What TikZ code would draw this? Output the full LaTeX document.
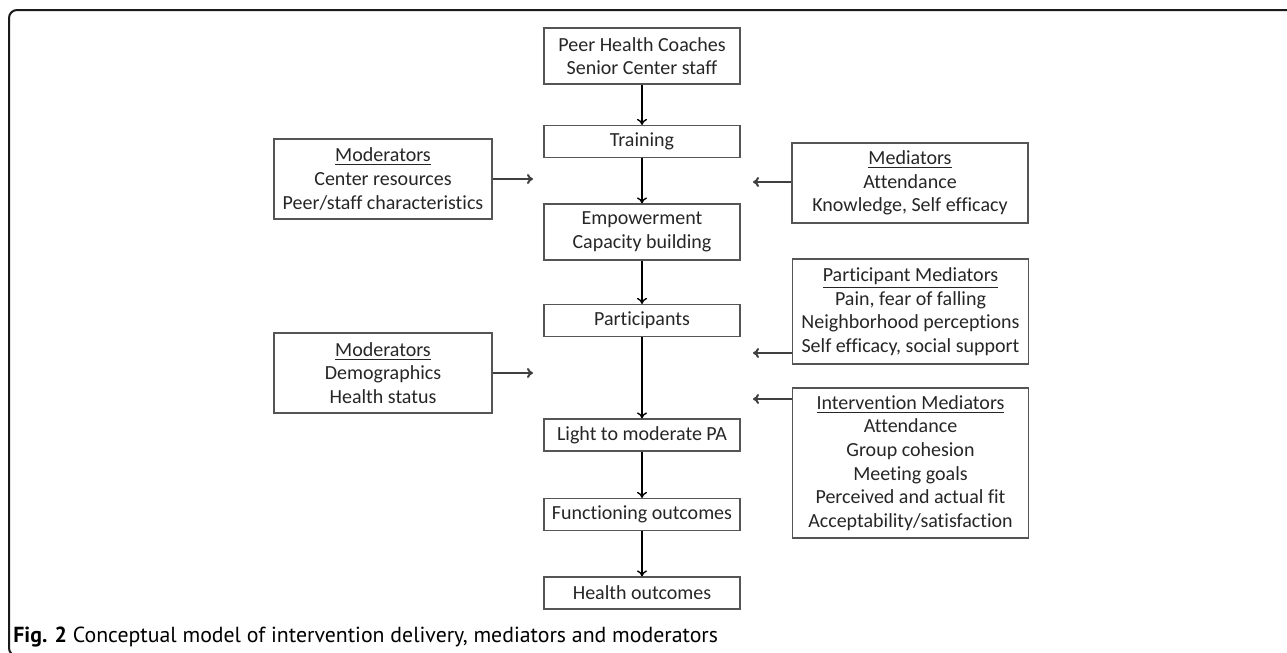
\documentclass[tikz,border=0pt]{standalone}
\usepackage{fontspec}
\setmainfont[Ligatures={NoCommon}]{Carlito}
\newfontfamily\captionfont{PT Sans}
\definecolor{FrameBlack}{HTML}{1A1A1A}
\definecolor{BoxGrey}{HTML}{555555}
\definecolor{ArrowGrey}{HTML}{404040}
\definecolor{TextGrey}{HTML}{262626}
\usetikzlibrary{arrows.meta}

\begin{document}
\begin{tikzpicture}[
    x=0.5pt, y=-0.5pt,
    box/.style={
      draw=BoxGrey,
      line width=0.6pt,
      align=center,
      text=TextGrey,
      font=\fontsize{10}{11.8}\selectfont,
      inner sep=2pt,
      minimum width=98pt,
      minimum height=16pt
    },
    sidebox/.style={box, minimum width=118pt},
    modbox/.style={box, minimum width=109pt, minimum height=40pt},
    arr/.style={-{To[length=3pt,width=5pt]}, line width=0.7pt, black},
    sidearr/.style={-{To[length=3pt,width=5pt]}, line width=1pt, ArrowGrey}
  ]
    \path[use as bounding box, clip] (0,0) rectangle (1287,653);
    \draw[FrameBlack, line width=1pt, rounded corners=4pt] (9,10) rectangle (1330,656);

    \node[box, minimum height=28pt] (coach) at (642,56) {Peer Health Coaches\\Senior Center staff};
    \node[box] (train) at (642,141.5) {Training};
    \node[box, minimum height=28pt] (empower) at (642,232) {Empowerment\\Capacity building};
    \node[box] (partic) at (642,320.5) {Participants};
    \node[box] (lightpa) at (642,435) {Light to moderate PA};
    \node[box] (funct) at (642,514.5) {Functioning outcomes};
    \node[box] (health) at (642,593) {Health outcomes};

    \node[modbox] (centermod) at (383,179) {\underline{Moderators}\\Center resources\\Peer/staff characteristics};
    \node[modbox] (partmod) at (383,373) {\underline{Moderators}\\Demographics\\Health status};
    \node[sidebox, minimum height=40pt] (trainmed) at (910,183) {\underline{Mediators}\\Attendance\\Knowledge, Self efficacy};
    \node[sidebox, minimum height=52.5pt] (partmed) at (910.5,311.5) {\underline{Participant Mediators}\\Pain, fear of falling\\Neighborhood perceptions\\Self efficacy, social support};
    \node[sidebox, minimum height=75pt] (intmed) at (910.5,463) {\underline{Intervention Mediators}\\Attendance\\Group cohesion\\Meeting goals\\Perceived and actual fit\\Acceptability/satisfaction};

    \node[anchor=west, inner sep=0pt, font=\captionfont\fontsize{10.9}{12}\selectfont] (caption) at (13,637)
      {\textbf{Fig. 2} Conceptual model of intervention delivery, mediators and moderators};

    \foreach \a/\b in {coach/train, train/empower, empower/partic, partic/lightpa, lightpa/funct, funct/health}
      \draw[arr] (\a) -- (\b);

    \coordinate (centermodend) at (533,179);
    \coordinate (partmodend) at (533,373);
    \coordinate (trainmedend) at (753,182);
    \coordinate (partmedend) at (753,353);
    \coordinate (intmedend) at (753,399);
    \draw[sidearr] (centermod) -- (centermodend);
    \draw[sidearr] (partmod) -- (partmodend);
    \draw[sidearr] (trainmed.west |- trainmedend) -- (trainmedend);
    \draw[sidearr] (partmed.west |- partmedend) -- (partmedend);
    \draw[sidearr] (intmed.west |- intmedend) -- (intmedend);
  \end{tikzpicture}
\end{document}
